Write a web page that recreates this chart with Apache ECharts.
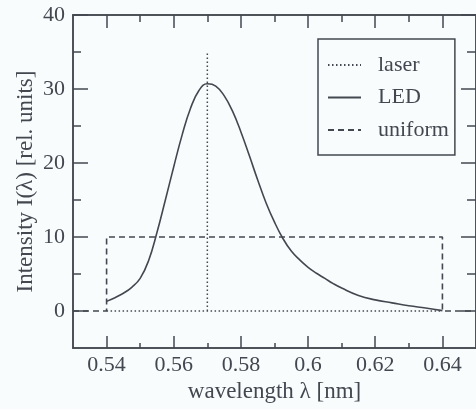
<!DOCTYPE html>
<html>
<head>
<meta charset="utf-8">
<script src="https://cdn.jsdelivr.net/npm/echarts@6/dist/echarts.min.js"></script>
<style>
  html, body { margin: 0; padding: 0; background: #f9fcfd; }
  #chart { width: 476px; height: 409px; }
</style>
</head>
<body>
<div id="chart"></div>
<script>
// LED emission spectrum (wavelength in nm, intensity in rel. units)
const ledWavelength = [0.540, 0.5425, 0.545, 0.5475, 0.550, 0.5525, 0.555, 0.5575, 0.560, 0.5625,
  0.565, 0.5675, 0.570, 0.5725, 0.575, 0.5775, 0.580, 0.5825, 0.585, 0.5875,
  0.590, 0.5925, 0.595, 0.5975, 0.600, 0.6025, 0.605, 0.6075, 0.610, 0.615, 0.620, 0.625,
  0.630, 0.635, 0.640];
const ledIntensity = [1.3, 1.8, 2.4, 3.2, 4.4, 6.8, 10.6, 15.0, 19.5, 23.8,
  27.4, 29.8, 30.7, 30.4, 29.1, 27.0, 24.2, 21.0, 17.7, 14.6,
  12.0, 9.8, 8.1, 6.9, 5.9, 5.1, 4.4, 3.7, 3.1, 2.1, 1.5, 1.1,
  0.7, 0.4, 0.05];

// Monochromatic laser line (null splits the baseline from the spike)
const laserWavelength = [0.540, 0.640, null, 0.570, 0.570];
const laserIntensity = [0, 0, null, 0, 35];

// Uniform (flat) spectrum
const uniformWavelength = [0.530, 0.540, 0.540, 0.640, 0.640, 0.650];
const uniformIntensity = [0, 0, 10, 10, 0, 0];

// Axis ticks and labels
const xMajorTicks = [0.54, 0.56, 0.58, 0.60, 0.62, 0.64];
const xMinorTicks = [0.55, 0.57, 0.59, 0.61, 0.63];
const yMajorTicks = [0, 10, 20, 30, 40];
const yMinorTicks = [5, 15, 25, 35];

const ink = '#434850';
const font = 'Liberation Serif';

const pairs = (xs, ys) => xs.map((x, i) => (x === null ? [null, null] : [x, ys[i]]));

function xAxisDef(position, ticks, len, labels) {
  return {
    type: 'value', position: position, min: 0.53, max: 0.65,
    axisLine: { show: true, onZero: false, lineStyle: { color: ink, width: 1.5 } },
    axisTick: { show: true, inside: true, length: len, customValues: ticks,
      lineStyle: { color: ink, width: 1.5 } },
    axisLabel: labels ? { show: true, customValues: xMajorTicks, margin: 6,
      fontFamily: font, fontSize: 22, color: ink } : { show: false },
    splitLine: { show: false }
  };
}
function yAxisDef(position, ticks, len, labels) {
  return {
    type: 'value', position: position, min: -5, max: 40,
    axisLine: { show: true, onZero: false, lineStyle: { color: ink, width: 1.5 } },
    axisTick: { show: true, inside: true, length: len, customValues: ticks,
      lineStyle: { color: ink, width: 1.5 } },
    axisLabel: labels ? { show: true, customValues: yMajorTicks, margin: 8,
      fontFamily: font, fontSize: 22, color: ink } : { show: false },
    splitLine: { show: false }
  };
}

const xAxes = [
  xAxisDef('bottom', xMajorTicks, 12, true),
  xAxisDef('bottom', xMinorTicks, 5, false),
  xAxisDef('top', xMajorTicks, 13, false),
  xAxisDef('top', xMinorTicks, 7, false)
];
Object.assign(xAxes[0], {
  name: 'wavelength λ [nm]', nameLocation: 'middle', nameGap: 30,
  nameTextStyle: { fontFamily: font, fontSize: 23, color: ink }
});
const yAxes = [
  yAxisDef('left', yMajorTicks, 15, true),
  yAxisDef('left', yMinorTicks, 8, false),
  yAxisDef('right', yMajorTicks, 15, false),
  yAxisDef('right', yMinorTicks, 9, false)
];
Object.assign(yAxes[0], {
  name: 'Intensity I(λ) [rel. units]', nameLocation: 'middle', nameGap: 36,
  nameMoveOverlap: false, nameRotate: 90,
  nameTextStyle: { fontFamily: font, fontSize: 23, color: ink }
});

const chart = echarts.init(document.getElementById('chart'), null, { renderer: 'canvas' });
chart.setOption({
  backgroundColor: '#f9fcfd',
  animation: false,
  grid: { left: 73, top: 15, width: 409, bottom: 61, containLabel: false },
  xAxis: xAxes,
  yAxis: yAxes,
  legend: {
    orient: 'vertical', left: 318, top: 39,
    padding: [15, 6, 14, 9],
    itemWidth: 33, itemHeight: 14, itemGap: 10.5,
    borderColor: ink, borderWidth: 1.5, borderRadius: 0,
    backgroundColor: '#f9fcfd',
    itemStyle: { opacity: 0 },
    textStyle: { fontFamily: font, fontSize: 22, lineHeight: 22, color: ink, padding: [0, 0, 0, 12] },
    data: ['laser', 'LED', 'uniform']
  },
  series: [
    {
      name: 'laser', type: 'line', showSymbol: false, symbol: 'none',
      data: pairs(laserWavelength, laserIntensity),
      lineStyle: { color: ink, width: 1.5, type: [1.5, 2.5] }, itemStyle: { color: ink }
    },
    {
      name: 'LED', type: 'line', showSymbol: false, symbol: 'none', smooth: 0.45,
      data: pairs(ledWavelength, ledIntensity),
      lineStyle: { color: ink, width: 1.6 }, itemStyle: { color: ink }
    },
    {
      name: 'uniform', type: 'line', showSymbol: false, symbol: 'none',
      data: pairs(uniformWavelength, uniformIntensity),
      lineStyle: { color: ink, width: 1.6, type: [6, 4] }, itemStyle: { color: ink }
    }
  ]
});
</script>
</body>
</html>
